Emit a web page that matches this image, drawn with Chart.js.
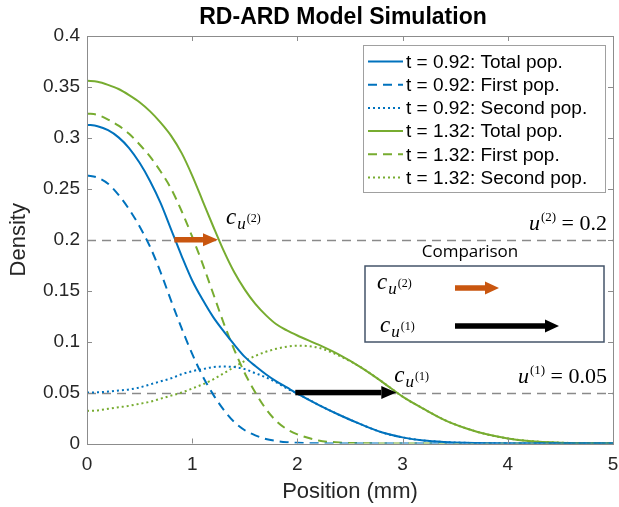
<!DOCTYPE html>
<html><head><meta charset="utf-8">
<script src="https://cdn.jsdelivr.net/npm/chart.js@4"></script>
<style>html,body{margin:0;padding:0;background:#fff}</style>
</head><body>
<canvas id="c" width="619" height="507"></canvas>
<script>
// ---- data ----
const positions = [0,0.1,0.2,0.3,0.4,0.5,0.6,0.7,0.8,0.9,1.0,1.1,1.2,1.3,1.4,1.5,1.6,1.7,1.8,1.9,2.0,2.2,2.4,2.6,2.8,3.0,3.2,3.4,3.6,3.8,4.0,4.2,4.5,5.0];
const totalT092  = [0.313,0.3115,0.3075,0.3005,0.290,0.2755,0.2575,0.236,0.210,0.184,0.160,0.141,0.124,0.110,0.097,0.085,0.076,0.068,0.061,0.055,0.049,0.038,0.028,0.019,0.011,0.006,0.003,0.0015,0.0007,0.0003,0.0001,0,0,0];
const firstT092  = [0.263,0.261,0.255,0.244,0.230,0.213,0.193,0.168,0.140,0.113,0.088,0.066,0.048,0.033,0.021,0.013,0.008,0.0045,0.0025,0.0013,0.0007,0.0002,0,0,0,0,0,0,0,0,0,0,0,0];
const secondT092 = [0.050,0.0502,0.051,0.052,0.053,0.055,0.058,0.061,0.064,0.068,0.071,0.073,0.075,0.0755,0.075,0.073,0.069,0.065,0.060,0.054,0.049,0.038,0.028,0.019,0.011,0.006,0.003,0.0015,0.0007,0.0003,0.0001,0,0,0];
const totalT132  = [0.356,0.355,0.352,0.348,0.342,0.335,0.326,0.315,0.302,0.285,0.263,0.238,0.213,0.189,0.168,0.151,0.137,0.126,0.117,0.111,0.106,0.097,0.087,0.075,0.061,0.046,0.034,0.023,0.015,0.009,0.005,0.0025,0.0008,0.0001];
const firstT132  = [0.324,0.3225,0.318,0.312,0.304,0.2935,0.2815,0.267,0.250,0.228,0.203,0.176,0.147,0.118,0.092,0.069,0.050,0.034,0.022,0.014,0.009,0.003,0.001,0.0003,0.0001,0,0,0,0,0,0,0,0,0];
const secondT132 = [0.032,0.0325,0.034,0.0355,0.037,0.039,0.041,0.044,0.047,0.050,0.054,0.058,0.063,0.069,0.075,0.081,0.086,0.090,0.093,0.095,0.096,0.094,0.086,0.075,0.061,0.046,0.034,0.023,0.015,0.009,0.005,0.0025,0.0008,0.0001];
const seriesLabels = ['t = 0.92: Total pop.','t = 0.92: First pop.','t = 0.92: Second pop.','t = 1.32: Total pop.','t = 1.32: First pop.','t = 1.32: Second pop.'];
const xTicks = [0,1,2,3,4,5];
const yTicks = [0,0.05,0.1,0.15,0.2,0.25,0.3,0.35,0.4];
const thresholdLevels = [0.2, 0.05];
const thresholdNames = ['(2)', '(1)'];
const thresholdValues = ['0.2', '0.05'];
const arrowStart = [0.83, 1.98];
const arrowEnd = [1.245, 2.94];

const BLUE = '#0072BD', GREEN = '#77AC30', ORANGE = '#C9560F';
const pts = arr => positions.map((x,i)=>({x, y: arr[i]}));
const styles = [[BLUE,[]],[BLUE,[9,6]],[BLUE,[2,3]],[GREEN,[]],[GREEN,[9,6]],[GREEN,[2,3]]];
const seriesData = [totalT092, firstT092, secondT092, totalT132, firstT132, secondT132];

const SANS = '"Liberation Sans", Arial, sans-serif';
const SERIF = '"Liberation Serif", "DejaVu Serif", serif';

function drawArrow(ctx, x1, x2, y, color, shaft, headLen, headW){
  ctx.save();
  ctx.fillStyle = color;
  ctx.fillRect(x1, y - shaft/2, (x2 - headLen) - x1, shaft);
  ctx.beginPath();
  ctx.moveTo(x2, y);
  ctx.lineTo(x2 - headLen, y - headW/2);
  ctx.lineTo(x2 - headLen, y + headW/2);
  ctx.closePath();
  ctx.fill();
  ctx.restore();
}
function drawCu(ctx, x, base, sup){
  ctx.save();
  ctx.fillStyle = '#000';
  ctx.textBaseline = 'alphabetic';
  ctx.textAlign = 'left';
  ctx.font = 'italic 23px ' + SERIF;
  ctx.fillText('c', x, base);
  let w = ctx.measureText('c').width;
  ctx.font = 'italic 17px ' + SERIF;
  ctx.fillText('u', x + w + 1, base + 5);
  const w2 = ctx.measureText('u').width;
  ctx.font = '12px ' + SERIF;
  ctx.fillText(sup, x + w + 2 + w2, base - 2);
  ctx.restore();
}
function drawThresholdLabel(ctx, right, base, sup, val){
  ctx.save();
  ctx.fillStyle = '#000';
  ctx.textBaseline = 'alphabetic';
  ctx.textAlign = 'left';
  ctx.font = 'italic 22px ' + SERIF; const wu = ctx.measureText('u').width;
  ctx.font = '13px ' + SERIF; const ws = ctx.measureText(sup).width;
  ctx.font = '22px ' + SERIF; const wr = ctx.measureText(' = ' + val).width;
  let x = right - (wu + 1 + ws + wr);
  ctx.font = 'italic 22px ' + SERIF; ctx.fillText('u', x, base); x += wu + 1;
  ctx.font = '13px ' + SERIF; ctx.fillText(sup, x, base - 9); x += ws;
  ctx.font = '22px ' + SERIF; ctx.fillText(' = ' + val, x, base);
  ctx.restore();
}

const decor = {
  id: 'decor',
  beforeDatasetsDraw(chart){
    const {ctx, chartArea: a, scales: {x, y}} = chart;
    ctx.save();
    ctx.strokeStyle = '#8a8a8a'; ctx.lineWidth = 1.3; ctx.setLineDash([9,6]);
    thresholdLevels.forEach(v => {
      const py = Math.round(y.getPixelForValue(v)) + 0.5;
      ctx.beginPath(); ctx.moveTo(a.left, py); ctx.lineTo(a.right, py); ctx.stroke();
    });
    ctx.restore();
  },
  afterDatasetsDraw(chart){
    const {ctx, chartArea: a, scales: {x, y}} = chart;
    // axes box with inward ticks
    ctx.save();
    ctx.strokeStyle = '#8c8c8c'; ctx.lineWidth = 1;
    ctx.strokeRect(Math.round(a.left)+0.5, Math.round(a.top)+0.5, Math.round(a.right-a.left), Math.round(a.bottom-a.top));
    ctx.beginPath();
    xTicks.forEach(v => { const px = Math.round(x.getPixelForValue(v))+0.5;
      ctx.moveTo(px, a.bottom); ctx.lineTo(px, a.bottom-5);
      ctx.moveTo(px, a.top); ctx.lineTo(px, a.top+5); });
    yTicks.forEach(v => { const py = Math.round(y.getPixelForValue(v))+0.5;
      ctx.moveTo(a.left, py); ctx.lineTo(a.left+5, py);
      ctx.moveTo(a.right, py); ctx.lineTo(a.right-5, py); });
    ctx.stroke();
    ctx.restore();
    // shift arrows
    const colors = [ORANGE, '#000'];
    thresholdLevels.forEach((lv, i) => {
      const py = y.getPixelForValue(lv);
      drawArrow(ctx, x.getPixelForValue(arrowStart[i]), x.getPixelForValue(arrowEnd[i]), py, colors[i], 5.5, 15, 13);
    });
    // c labels near arrow ends
    drawCu(ctx, x.getPixelForValue(arrowEnd[0]) + 8, y.getPixelForValue(thresholdLevels[0]) - 16, '(2)');
    drawCu(ctx, x.getPixelForValue(arrowEnd[1]) - 2, y.getPixelForValue(thresholdLevels[1]) - 11, '(1)');
    // threshold labels
    thresholdLevels.forEach((lv, i) => {
      drawThresholdLabel(ctx, a.right - 6, y.getPixelForValue(lv) - 10, thresholdNames[i], thresholdValues[i]);
    });
    // comparison inset
    ctx.save();
    ctx.fillStyle = '#000'; ctx.font = '17px "Open Sans", ' + SANS; ctx.textAlign = 'center'; ctx.textBaseline = 'alphabetic';
    ctx.fillText('Comparison', 470, 257);
    ctx.strokeStyle = '#44546A'; ctx.lineWidth = 1.5;
    ctx.strokeRect(365, 266, 239, 76);
    ctx.restore();
    drawCu(ctx, 377, 289, '(2)');
    drawArrow(ctx, 455, 499, 288, ORANGE, 5.5, 14, 13);
    drawCu(ctx, 380, 332, '(1)');
    drawArrow(ctx, 455, 559, 326, '#000', 5.5, 14, 13);
  },
  afterDraw(chart){
    const {ctx} = chart;
    // title
    ctx.save();
    ctx.fillStyle = '#000'; ctx.font = 'bold 23px ' + SANS; ctx.textAlign = 'center'; ctx.textBaseline = 'middle';
    ctx.fillText('RD-ARD Model Simulation', 343, 18);
    // legend
    const bx = 363, by = 45, bw = 242, bh = 147;
    ctx.fillStyle = '#fff'; ctx.fillRect(bx, by, bw, bh);
    ctx.strokeStyle = '#a0a0a0'; ctx.lineWidth = 1; ctx.strokeRect(bx+0.5, by+0.5, bw, bh);
    ctx.font = '19px ' + SANS; ctx.textAlign = 'left'; ctx.textBaseline = 'middle';
    chart.data.datasets.forEach((ds, i) => {
      const cy = by + 16.5 + i*23.2;
      ctx.strokeStyle = ds.borderColor; ctx.lineWidth = 2; ctx.setLineDash(ds.borderDash || []);
      ctx.beginPath(); ctx.moveTo(368, cy); ctx.lineTo(403, cy); ctx.stroke();
      ctx.setLineDash([]);
      ctx.fillStyle = '#000'; ctx.fillText(ds.label, 406, cy + 1);
    });
    ctx.restore();
  }
};

new Chart(document.getElementById('c'), {
  type: 'line',
  data: {
    datasets: seriesData.map((arr, i) => ({
      label: seriesLabels[i], data: pts(arr),
      borderColor: styles[i][0], borderDash: styles[i][1], borderWidth: 2,
      pointRadius: 0, fill: false, cubicInterpolationMode: 'monotone'
    }))
  },
  options: {
    responsive: false, animation: false, devicePixelRatio: 1,
    layout: { padding: { top: 36, right: 6, left: 0, bottom: 0 } },
    plugins: { legend: { display: false }, title: { display: false }, tooltip: { enabled: false } },
    scales: {
      x: {
        type: 'linear', min: 0, max: 5,
        afterBuildTicks: s => { s.ticks = xTicks.map(v => ({ value: v })); },
        afterFit: s => { s.height = 63.5; s.paddingLeft = 0; s.paddingRight = 0; },
        grid: { display: false, drawTicks: false }, border: { display: false },
        ticks: { color: '#262626', font: { family: SANS, size: 19 }, padding: 10, maxRotation: 0,
                 callback: v => String(v) },
        title: { display: true, text: 'Position (mm)', color: '#262626', font: { family: SANS, size: 22 }, padding: { top: 0, bottom: 2 } }
      },
      y: {
        type: 'linear', min: 0, max: 0.4,
        afterBuildTicks: s => { s.ticks = yTicks.map(v => ({ value: v })); },
        afterFit: s => { s.width = 87; s.paddingTop = 0; s.paddingBottom = 0; },
        grid: { display: false, drawTicks: false }, border: { display: false },
        ticks: { color: '#262626', font: { family: SANS, size: 19 }, padding: 7,
                 callback: v => String(Number(v.toFixed(2))) },
        title: { display: true, text: 'Density', color: '#262626', font: { family: SANS, size: 22 }, padding: { top: 6, bottom: 0 } }
      }
    }
  },
  plugins: [decor]
});
</script>
</body></html>
